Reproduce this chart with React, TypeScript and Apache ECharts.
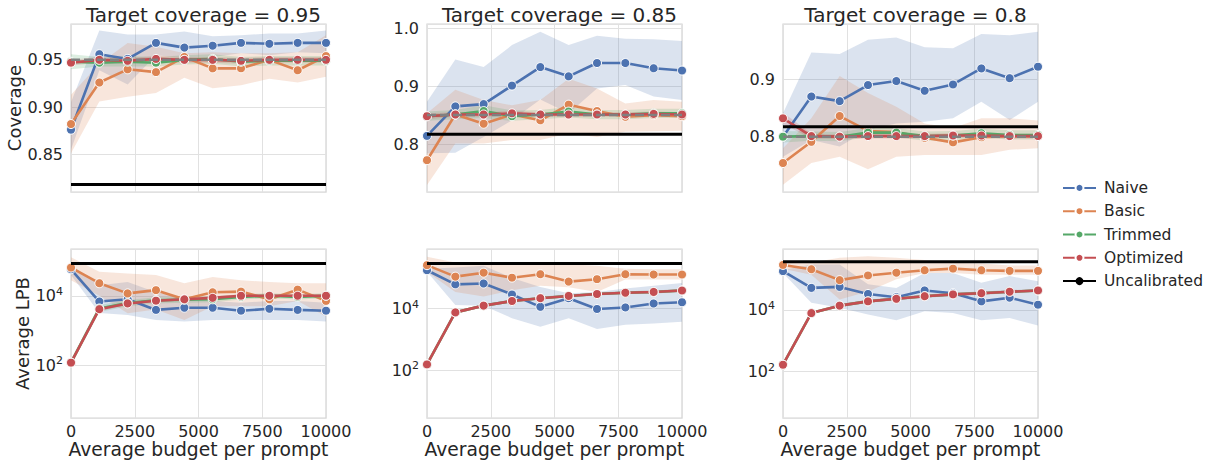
import React, { useEffect, useRef } from 'react';
import * as echarts from 'echarts';

// ---------- data ----------
const budgets = [0, 1111, 2222, 3333, 4444, 5556, 6667, 7778, 8889, 10000];
const methodNames = ['Naive', 'Basic', 'Trimmed', 'Optimized'];
const targetCoverages = [0.95, 0.85, 0.8];
const panelTitles = ['Target coverage = 0.95', 'Target coverage = 0.85', 'Target coverage = 0.8'];

// Coverage, target 0.95
const cov95Naive = [0.876, 0.956, 0.951, 0.968, 0.963, 0.965, 0.968, 0.967, 0.968, 0.968];
const cov95NaiveLo = [0.855, 0.939, 0.924, 0.955, 0.952, 0.953, 0.957, 0.955, 0.958, 0.957];
const cov95NaiveHi = [0.905, 0.981, 0.977, 0.977, 0.980, 0.975, 0.976, 0.978, 0.978, 0.981];
const cov95Basic = [0.882, 0.926, 0.940, 0.937, 0.953, 0.941, 0.941, 0.950, 0.939, 0.954];
const cov95BasicLo = [0.851, 0.906, 0.911, 0.915, 0.931, 0.920, 0.923, 0.930, 0.926, 0.932];
const cov95BasicHi = [0.913, 0.946, 0.968, 0.964, 0.957, 0.958, 0.957, 0.957, 0.958, 0.976];
const cov95Trimmed = [0.948, 0.947, 0.948, 0.947, 0.950, 0.951, 0.948, 0.949, 0.949, 0.949];
const cov95TrimmedLo = [0.940, 0.943, 0.943, 0.943, 0.945, 0.946, 0.943, 0.944, 0.944, 0.944];
const cov95TrimmedHi = [0.956, 0.953, 0.954, 0.953, 0.955, 0.956, 0.953, 0.954, 0.954, 0.954];
const cov95Optimized = [0.947, 0.950, 0.949, 0.951, 0.950, 0.950, 0.949, 0.950, 0.950, 0.950];
const cov95OptimizedLo = [0.944, 0.947, 0.946, 0.948, 0.947, 0.947, 0.946, 0.947, 0.947, 0.947];
const cov95OptimizedHi = [0.950, 0.953, 0.952, 0.954, 0.953, 0.953, 0.952, 0.953, 0.953, 0.953];
const cov95Uncalibrated = 0.818;

// Coverage, target 0.85
const cov85Naive = [0.814, 0.865, 0.869, 0.901, 0.933, 0.917, 0.940, 0.940, 0.931, 0.927];
const cov85NaiveLo = [0.784, 0.785, 0.812, 0.841, 0.877, 0.853, 0.896, 0.902, 0.882, 0.876];
const cov85NaiveHi = [0.873, 0.946, 0.933, 0.971, 0.994, 0.971, 0.987, 0.982, 0.981, 0.978];
const cov85Basic = [0.772, 0.851, 0.835, 0.851, 0.841, 0.868, 0.857, 0.847, 0.850, 0.848];
const cov85BasicLo = [0.729, 0.801, 0.801, 0.807, 0.807, 0.818, 0.812, 0.821, 0.822, 0.823];
const cov85BasicHi = [0.853, 0.894, 0.876, 0.867, 0.876, 0.913, 0.896, 0.870, 0.876, 0.873];
const cov85Trimmed = [0.848, 0.851, 0.857, 0.848, 0.851, 0.856, 0.851, 0.851, 0.853, 0.853];
const cov85TrimmedLo = [0.840, 0.843, 0.845, 0.840, 0.843, 0.846, 0.843, 0.843, 0.845, 0.845];
const cov85TrimmedHi = [0.856, 0.859, 0.867, 0.858, 0.859, 0.864, 0.859, 0.859, 0.861, 0.861];
const cov85Optimized = [0.848, 0.851, 0.851, 0.853, 0.851, 0.851, 0.851, 0.851, 0.852, 0.851];
const cov85OptimizedLo = [0.843, 0.847, 0.847, 0.849, 0.847, 0.847, 0.847, 0.847, 0.848, 0.847];
const cov85OptimizedHi = [0.853, 0.855, 0.855, 0.857, 0.855, 0.855, 0.855, 0.855, 0.856, 0.855];
const cov85Uncalibrated = 0.817;

// Coverage, target 0.8
const cov80Naive = [0.800, 0.870, 0.862, 0.890, 0.897, 0.880, 0.891, 0.919, 0.902, 0.922];
const cov80NaiveLo = [0.765, 0.794, 0.783, 0.812, 0.823, 0.826, 0.832, 0.861, 0.829, 0.861];
const cov80NaiveHi = [0.841, 0.947, 0.944, 0.969, 0.973, 0.956, 0.954, 0.979, 0.977, 0.983];
const cov80Basic = [0.754, 0.791, 0.836, 0.810, 0.808, 0.798, 0.790, 0.799, 0.801, 0.801];
const cov80BasicLo = [0.716, 0.754, 0.765, 0.743, 0.765, 0.768, 0.768, 0.768, 0.777, 0.780];
const cov80BasicHi = [0.780, 0.832, 0.906, 0.876, 0.852, 0.823, 0.815, 0.832, 0.832, 0.828];
const cov80Trimmed = [0.800, 0.801, 0.800, 0.807, 0.807, 0.801, 0.802, 0.806, 0.803, 0.803];
const cov80TrimmedLo = [0.790, 0.793, 0.792, 0.799, 0.799, 0.793, 0.794, 0.798, 0.795, 0.795];
const cov80TrimmedHi = [0.810, 0.809, 0.808, 0.815, 0.815, 0.809, 0.810, 0.814, 0.811, 0.811];
const cov80Optimized = [0.832, 0.801, 0.800, 0.801, 0.801, 0.801, 0.802, 0.802, 0.801, 0.801];
const cov80OptimizedLo = [0.822, 0.797, 0.796, 0.797, 0.797, 0.797, 0.798, 0.798, 0.797, 0.797];
const cov80OptimizedHi = [0.842, 0.805, 0.804, 0.805, 0.805, 0.805, 0.806, 0.806, 0.805, 0.805];
const cov80Uncalibrated = 0.8175;

// Average LPB, target 0.95
const lpb95Naive = [5.8e4, 6.8e3, 7.9e3, 3.9e3, 4.5e3, 4.5e3, 3.7e3, 4.2e3, 3.9e3, 3.7e3];
const lpb95NaiveLo = [4.0e4, 3.2e3, 2.8e3, 2.0e3, 1.8e3, 2.0e3, 2.0e3, 2.0e3, 2.0e3, 1.8e3];
const lpb95NaiveHi = [7.9e4, 2.0e4, 2.5e4, 1.26e4, 8.9e3, 7.1e3, 6.3e3, 7.1e3, 7.1e3, 6.3e3];
const lpb95Basic = [6.5e4, 2.3e4, 1.17e4, 1.45e4, 7.9e3, 1.26e4, 1.32e4, 7.9e3, 1.5e4, 7.1e3];
const lpb95BasicLo = [2.8e4, 1.0e4, 3.1e3, 4.0e3, 2.0e3, 5.0e3, 5.0e3, 5.0e3, 7.1e3, 2.5e3];
const lpb95BasicHi = [1.3e5, 4.9e4, 4.4e4, 4.0e4, 2.3e4, 3.5e4, 2.8e4, 2.5e4, 2.3e4, 2.3e4];
const lpb95Trimmed = [117, 4.3e3, 6.2e3, 7.4e3, 7.7e3, 7.9e3, 9.3e3, 1.0e4, 9.3e3, 1.0e4];
const lpb95TrimmedLo = [95, 3.4e3, 5.0e3, 6.0e3, 6.3e3, 6.5e3, 7.8e3, 8.5e3, 7.8e3, 8.5e3];
const lpb95TrimmedHi = [145, 5.4e3, 7.6e3, 9.0e3, 9.4e3, 9.6e3, 1.1e4, 1.18e4, 1.1e4, 1.18e4];
const lpb95Optimized = [117, 4.1e3, 6.0e3, 7.2e3, 7.9e3, 8.7e3, 1.0e4, 1.0e4, 1.0e4, 1.0e4];
const lpb95OptimizedLo = [100, 3.6e3, 5.4e3, 6.6e3, 7.2e3, 8.0e3, 9.2e3, 9.2e3, 9.2e3, 9.2e3];
const lpb95OptimizedHi = [135, 4.6e3, 6.7e3, 7.9e3, 8.7e3, 9.5e3, 1.09e4, 1.09e4, 1.09e4, 1.09e4];
const lpb95Uncalibrated = 8.5e4;

// Average LPB, target 0.85
const lpb85Naive = [1.78e5, 6.2e4, 6.6e4, 2.9e4, 1.15e4, 2.2e4, 9.8e3, 1.1e4, 1.48e4, 1.62e4];
const lpb85NaiveLo = [1.58e5, 1.32e4, 1.26e4, 4.9e3, 2.6e3, 4.9e3, 2.2e3, 3.0e3, 3.3e3, 3.8e3];
const lpb85NaiveHi = [2.0e5, 2.2e5, 2.5e5, 1.0e5, 5.1e4, 3.2e4, 3.5e4, 4.5e4, 5.6e4, 6.9e4];
const lpb85Basic = [2.6e5, 1.1e5, 1.48e5, 1.02e5, 1.32e5, 7.6e4, 9.1e4, 1.32e5, 1.29e5, 1.29e5];
const lpb85BasicLo = [1.58e5, 3.5e4, 2.5e4, 4.0e4, 5.6e4, 5.0e4, 3.5e4, 8.9e4, 8.9e4, 8.9e4];
const lpb85BasicHi = [4.9e5, 3.2e5, 3.2e5, 3.2e5, 3.2e5, 2.8e5, 2.5e5, 2.0e5, 1.9e5, 1.9e5];
const lpb85Trimmed = [155, 7.6e3, 1.26e4, 1.78e4, 2.2e4, 2.6e4, 3.0e4, 3.3e4, 3.5e4, 3.9e4];
const lpb85TrimmedLo = [135, 6.8e3, 1.13e4, 1.6e4, 2.0e4, 2.35e4, 2.7e4, 3.0e4, 3.15e4, 3.5e4];
const lpb85TrimmedHi = [180, 8.5e3, 1.4e4, 2.0e4, 2.45e4, 2.9e4, 3.35e4, 3.7e4, 3.9e4, 4.35e4];
const lpb85Optimized = [155, 7.6e3, 1.26e4, 1.78e4, 2.2e4, 2.6e4, 3.0e4, 3.3e4, 3.5e4, 3.9e4];
const lpb85OptimizedLo = [135, 6.8e3, 1.13e4, 1.6e4, 2.0e4, 2.35e4, 2.7e4, 3.0e4, 3.15e4, 3.5e4];
const lpb85OptimizedHi = [180, 8.5e3, 1.4e4, 2.0e4, 2.45e4, 2.9e4, 3.35e4, 3.7e4, 3.9e4, 4.35e4];
const lpb85Uncalibrated = 2.95e5;

// Average LPB, target 0.8
const lpb80Naive = [1.82e5, 5.2e4, 5.6e4, 3.3e4, 2.6e4, 4.3e4, 3.5e4, 1.9e4, 2.5e4, 1.48e4];
const lpb80NaiveLo = [1.58e5, 1.7e4, 1.17e4, 7.1e3, 4.6e3, 9.1e3, 7.9e3, 4.6e3, 5.5e3, 3.1e3];
const lpb80NaiveHi = [2.0e5, 3.0e5, 3.0e5, 6.8e4, 5.2e4, 1.58e5, 1.58e5, 7.6e4, 1.26e5, 8.5e4];
const lpb80Basic = [2.9e5, 2.1e5, 9.3e4, 1.32e5, 1.62e5, 1.95e5, 2.2e5, 1.95e5, 1.86e5, 1.86e5];
const lpb80BasicLo = [2.2e5, 1.4e5, 2.2e4, 4.0e4, 1.0e5, 1.58e5, 1.58e5, 1.4e5, 1.4e5, 1.4e5];
const lpb80BasicHi = [4.0e5, 3.5e5, 5.0e5, 5.6e5, 5.0e5, 4.2e5, 3.4e5, 3.2e5, 2.8e5, 2.8e5];
const lpb80Trimmed = [166, 7.9e3, 1.38e4, 1.9e4, 2.3e4, 2.8e4, 3.2e4, 3.5e4, 3.9e4, 4.3e4];
const lpb80TrimmedLo = [145, 7.1e3, 1.23e4, 1.7e4, 2.05e4, 2.5e4, 2.85e4, 3.1e4, 3.5e4, 3.8e4];
const lpb80TrimmedHi = [190, 8.9e3, 1.55e4, 2.15e4, 2.6e4, 3.15e4, 3.6e4, 3.95e4, 4.4e4, 4.8e4];
const lpb80Optimized = [166, 7.9e3, 1.38e4, 1.9e4, 2.3e4, 2.8e4, 3.2e4, 3.5e4, 3.9e4, 4.3e4];
const lpb80OptimizedLo = [145, 7.1e3, 1.23e4, 1.7e4, 2.05e4, 2.5e4, 2.85e4, 3.1e4, 3.5e4, 3.8e4];
const lpb80OptimizedHi = [190, 8.9e3, 1.55e4, 2.15e4, 2.6e4, 3.15e4, 3.6e4, 3.95e4, 4.4e4, 4.8e4];
const lpb80Uncalibrated = 3.7e5;

// axis ranges (coverage in value units; LPB in log10 units)
const covRanges = [[0.81, 0.988], [0.717, 1.0075], [0.7035, 0.9965]];
const covTickSteps = [0.05, 0.1, 0.1];
const covTickDecimals = [2, 1, 1];
const lpbLogRanges = [[0.47, 5.35], [0.45, 5.94], [0.49, 5.98]];
const lpbLogTickStep = 2;
const xTickStep = 2500;

// ---------- style ----------
const COLORS = ['#4c72b0', '#dd8452', '#55a868', '#c44e52'];
const BAND_FILLS = ['rgba(76,114,176,0.2)', 'rgba(221,132,82,0.2)', 'rgba(85,168,104,0.2)', 'rgba(196,78,82,0.2)'];
const FONT = "'DejaVu Sans', 'Noto Sans', sans-serif";
const TEXT = '#262626';
const GRIDLINE = '#e1e1e1';
const BORDER = '#d4d4d4';
const LEFTS = [71, 427, 783];
const W = 255;

type Panel = { mean: number[][]; lo: number[][]; hi: number[][]; uncal: number; log: boolean };

const panels: Panel[] = [
  { mean: [cov95Naive, cov95Basic, cov95Trimmed, cov95Optimized], lo: [cov95NaiveLo, cov95BasicLo, cov95TrimmedLo, cov95OptimizedLo], hi: [cov95NaiveHi, cov95BasicHi, cov95TrimmedHi, cov95OptimizedHi], uncal: cov95Uncalibrated, log: false },
  { mean: [cov85Naive, cov85Basic, cov85Trimmed, cov85Optimized], lo: [cov85NaiveLo, cov85BasicLo, cov85TrimmedLo, cov85OptimizedLo], hi: [cov85NaiveHi, cov85BasicHi, cov85TrimmedHi, cov85OptimizedHi], uncal: cov85Uncalibrated, log: false },
  { mean: [cov80Naive, cov80Basic, cov80Trimmed, cov80Optimized], lo: [cov80NaiveLo, cov80BasicLo, cov80TrimmedLo, cov80OptimizedLo], hi: [cov80NaiveHi, cov80BasicHi, cov80TrimmedHi, cov80OptimizedHi], uncal: cov80Uncalibrated, log: false },
  { mean: [lpb95Naive, lpb95Basic, lpb95Trimmed, lpb95Optimized], lo: [lpb95NaiveLo, lpb95BasicLo, lpb95TrimmedLo, lpb95OptimizedLo], hi: [lpb95NaiveHi, lpb95BasicHi, lpb95TrimmedHi, lpb95OptimizedHi], uncal: lpb95Uncalibrated, log: true },
  { mean: [lpb85Naive, lpb85Basic, lpb85Trimmed, lpb85Optimized], lo: [lpb85NaiveLo, lpb85BasicLo, lpb85TrimmedLo, lpb85OptimizedLo], hi: [lpb85NaiveHi, lpb85BasicHi, lpb85TrimmedHi, lpb85OptimizedHi], uncal: lpb85Uncalibrated, log: true },
  { mean: [lpb80Naive, lpb80Basic, lpb80Trimmed, lpb80Optimized], lo: [lpb80NaiveLo, lpb80BasicLo, lpb80TrimmedLo, lpb80OptimizedLo], hi: [lpb80NaiveHi, lpb80BasicHi, lpb80TrimmedHi, lpb80OptimizedHi], uncal: lpb80Uncalibrated, log: true },
];

function buildOption() {
  const grids: any[] = [];
  const xAxes: any[] = [];
  const yAxes: any[] = [];
  const series: any[] = [];
  const titles: any[] = [];

  panels.forEach((p, g) => {
    const col = g % 3;
    const bottom = g >= 3;
    grids.push({
      left: LEFTS[col], width: W, top: bottom ? 249 : 24, height: bottom ? 169 : 168,
      show: true, borderColor: BORDER, borderWidth: 1.25, backgroundColor: '#fff', containLabel: false,
    });
    xAxes.push({
      type: 'value', gridIndex: g, min: budgets[0], max: budgets[budgets.length - 1], interval: xTickStep,
      axisLine: { show: false }, axisTick: { show: false },
      splitLine: { show: true, lineStyle: { color: GRIDLINE, width: 1 } },
      axisLabel: { show: bottom, fontSize: 16, color: TEXT, fontFamily: FONT, margin: 5, formatter: (v: number) => String(v) },
      name: bottom ? 'Average budget per prompt' : '', nameLocation: 'middle', nameGap: 21,
      nameTextStyle: { fontSize: 18.7, color: TEXT, fontFamily: FONT, verticalAlign: 'top' },
    });
    const tf = p.log ? (v: number) => Math.log10(v) : (v: number) => v;
    if (!bottom) {
      const step = covTickSteps[col];
      const dec = covTickDecimals[col];
      yAxes.push({
        type: 'value', gridIndex: g, min: covRanges[col][0], max: covRanges[col][1],
        minInterval: step, maxInterval: step,
        axisLine: { show: false }, axisTick: { show: false },
        splitLine: { show: true, lineStyle: { color: GRIDLINE, width: 1 } },
        axisLabel: {
          fontSize: 16, color: TEXT, fontFamily: FONT, margin: 8,
          formatter: (v: number) => (Math.abs(v / step - Math.round(v / step)) < 1e-6 ? v.toFixed(dec) : ''),
        },
        name: col === 0 ? 'Coverage' : '', nameLocation: 'middle', nameGap: 46,
        nameTextStyle: { fontSize: 18, color: TEXT, fontFamily: FONT },
      });
    } else {
      yAxes.push({
        type: 'value', gridIndex: g, min: lpbLogRanges[col][0], max: lpbLogRanges[col][1],
        minInterval: lpbLogTickStep, maxInterval: lpbLogTickStep,
        axisLine: { show: false }, axisTick: { show: false },
        splitLine: { show: true, lineStyle: { color: GRIDLINE, width: 1 } },
        axisLabel: {
          color: TEXT, fontFamily: FONT, margin: 8,
          formatter: (v: number) => (Math.abs(v - Math.round(v)) < 1e-6 && Math.round(v) % lpbLogTickStep === 0 ? `{b|10}{s|${Math.round(v)}}` : ''),
          rich: {
            b: { fontSize: 16, color: TEXT, fontFamily: FONT },
            s: { fontSize: 11, color: TEXT, fontFamily: FONT, padding: [0, 0, 9, 0] },
          },
        },
        name: col === 0 ? 'Average LPB' : '', nameLocation: 'middle', nameGap: 36,
        nameTextStyle: { fontSize: 18, color: TEXT, fontFamily: FONT },
      });
    }

    if (!bottom) {
      titles.push({
        text: panelTitles[col], left: LEFTS[col] + W / 2, top: 0, textAlign: 'center',
        textStyle: { fontSize: 20, fontWeight: 'normal', color: TEXT, fontFamily: FONT },
      });
    }

    // confidence bands (custom polygon through the axes' scales)
    methodNames.forEach((m, k) => {
      const lo = p.lo[k].map(tf);
      const hi = p.hi[k].map(tf);
      series.push({
        type: 'custom', xAxisIndex: g, yAxisIndex: g, silent: true, z: 1, clip: true,
        data: budgets.map((x, i) => [x, lo[i], hi[i]]),
        encode: { x: 0, y: [1, 2] },
        renderItem: (params: any, api: any) => {
          if (params.dataIndex !== 0) return null;
          const upper = budgets.map((x, i) => api.coord([x, hi[i]]));
          const lower = budgets.map((x, i) => api.coord([x, lo[i]])).reverse();
          return {
            type: 'polygon',
            shape: { points: upper.concat(lower) },
            style: { fill: BAND_FILLS[k], stroke: 'none' },
          };
        },
      });
    });
    // mean lines
    methodNames.forEach((m, k) => {
      series.push({
        type: 'line', name: m, xAxisIndex: g, yAxisIndex: g, z: 3,
        symbol: 'circle', symbolSize: 9, color: COLORS[k],
        itemStyle: { color: COLORS[k], borderColor: '#ffffff', borderWidth: 1 },
        lineStyle: { color: COLORS[k], width: 2.6 },
        data: budgets.map((x, i) => [x, tf(p.mean[k][i])]),
      });
    });
    // target (gray dashed) only for coverage row
    if (!bottom) {
      const t = targetCoverages[col];
      series.push({
        type: 'line', name: 'target', xAxisIndex: g, yAxisIndex: g, z: 4, symbol: 'none', silent: true,
        lineStyle: { color: '#808080', width: 2.5, type: [9, 4] },
        data: [[budgets[0], t], [budgets[budgets.length - 1], t]],
      });
    }
    // uncalibrated
    series.push({
      type: 'line', name: 'Uncalibrated', xAxisIndex: g, yAxisIndex: g, z: 5, symbol: 'none', color: '#000',
      lineStyle: { color: '#000000', width: 3 },
      data: [[budgets[0], tf(p.uncal)], [budgets[budgets.length - 1], tf(p.uncal)]],
    });
  });

  return {
    animation: false,
    backgroundColor: '#ffffff',
    textStyle: { fontFamily: FONT },
    title: titles,
    grid: grids,
    xAxis: xAxes,
    yAxis: yAxes,
    legend: {
      data: [...methodNames, 'Uncalibrated'],
      orient: 'vertical', left: 1057, top: 174,
      itemWidth: 33, itemHeight: 10, itemGap: 5.5,
      textStyle: { fontSize: 15.5, color: TEXT, fontFamily: FONT, lineHeight: 17.8, padding: [0, 0, 0, 3] },
    },
    series,
  };
}

export default function App() {
  const ref = useRef<HTMLDivElement>(null);
  useEffect(() => {
    if (!ref.current) return;
    const chart = echarts.init(ref.current, undefined, { renderer: 'svg' });
    chart.setOption(buildOption() as any);
    return () => chart.dispose();
  }, []);
  return <div ref={ref} style={{ position: 'fixed', left: 0, top: 0, width: 1213, height: 466 }} />;
}
